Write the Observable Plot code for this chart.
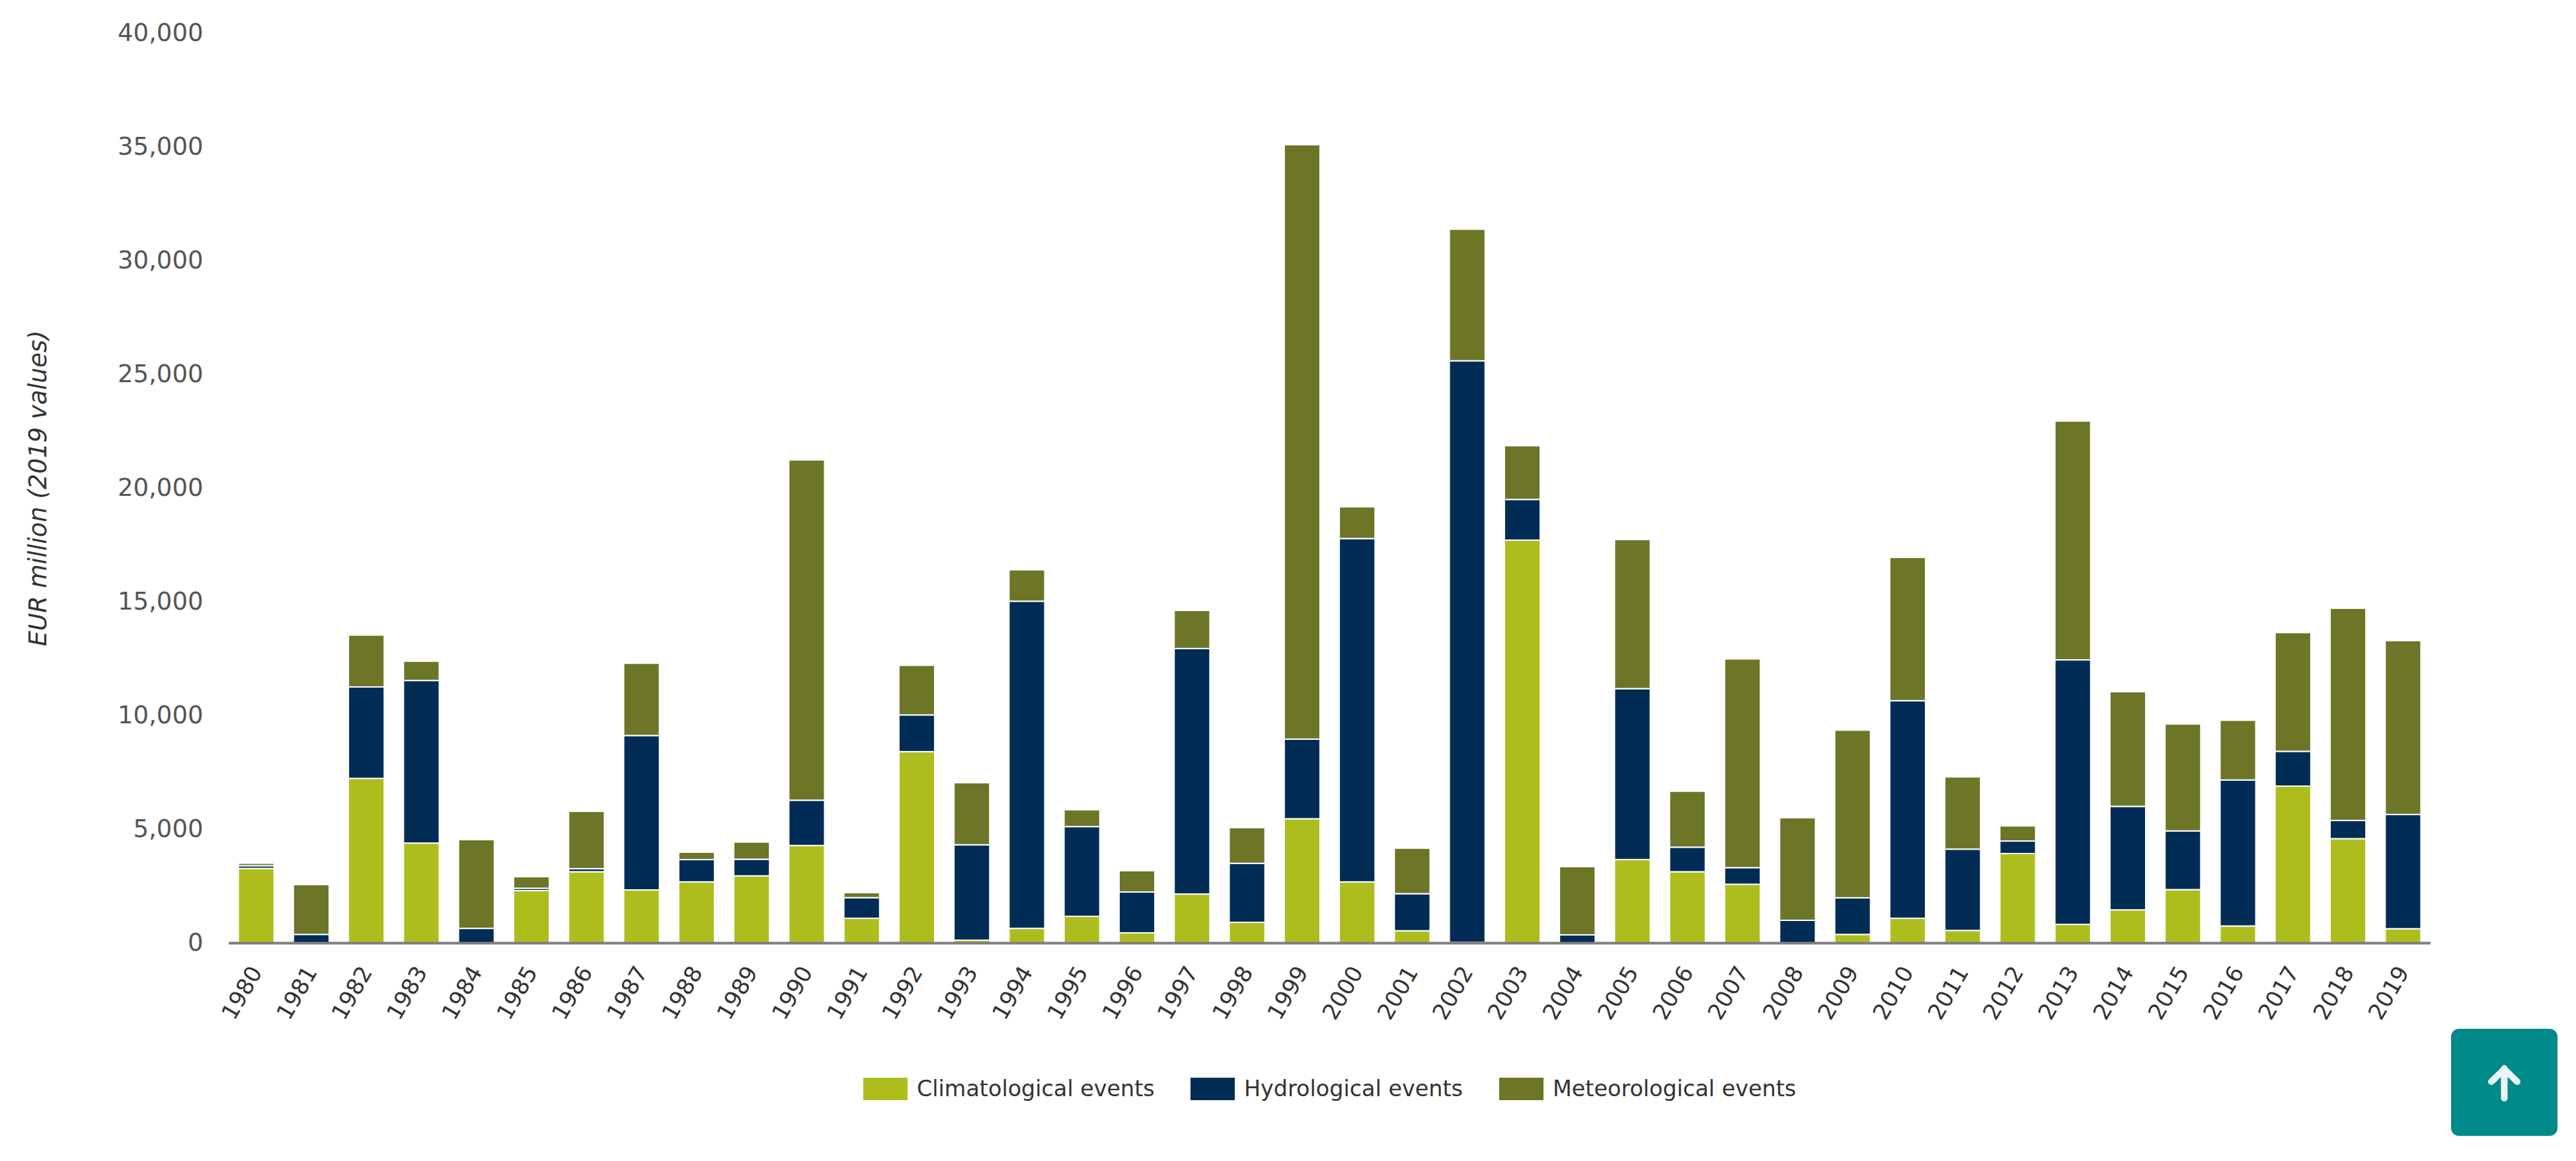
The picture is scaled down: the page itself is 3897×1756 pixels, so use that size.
<!DOCTYPE html>
<html>
<head>
<meta charset="utf-8">
<script src="https://cdn.jsdelivr.net/npm/d3@7"></script>
<script src="https://cdn.jsdelivr.net/npm/@observablehq/plot@0.6"></script>
<style>
html,body{margin:0;padding:0;background:#fff;font-family:"DejaVu Sans",sans-serif;}
#wrap{position:relative;width:3897px;height:1756px;overflow:hidden;}
#legend{position:absolute;left:1306px;top:1627px;height:34px;display:flex;align-items:center;font-size:33.4px;color:#333;white-space:nowrap;}
#legend .sw{width:67px;height:34px;margin-right:14px;flex:none;}
#legend .it{display:flex;align-items:center;position:absolute;top:0;}
#top{position:absolute;left:3708px;top:1556px;width:161px;height:162px;background:#008a8a;border-radius:12px;}
#top svg{position:absolute;left:0;top:0;}
</style>
</head>
<body>
<div id="wrap">
<div id="chart"></div>
<div id="legend"></div>
<div id="top"><svg width="161" height="162" viewBox="0 0 161 162"><path d="M80.5 60V105M61 80L80.5 61L100 80" fill="none" stroke="#eaf5f5" stroke-width="10" stroke-linecap="round" stroke-linejoin="round"/></svg></div>
</div>
<script>
const years = d3.range(1980, 2020).map(String);
const seriesNames = ["Climatological events", "Hydrological events", "Meteorological events"];
const seriesColors = ["#aebd1e", "#012c56", "#6d7527"];
const climatological = [3270,0,7230,4385,0,2295,3125,2325,2680,2945,4280,1080,8405,115,635,1165,440,2145,900,5455,2680,530,20,17705,0,3660,3125,2575,0,370,1080,545,3925,810,1450,2340,740,6890,4580,620];
const hydrological = [120,370,4020,7150,635,105,135,6790,980,730,1990,905,1615,4195,14385,3945,1795,10795,2595,3500,15095,1630,25570,1790,350,7515,1080,730,990,1610,9565,3575,550,11630,4550,2580,6420,1530,800,5025];
const meteorological = [110,2190,2280,845,3900,505,2520,3175,325,755,14960,220,2180,2730,1380,740,935,1675,1570,26135,1395,2000,5785,2360,3000,6555,2460,9175,4510,7370,6300,3175,665,10500,5040,4700,2625,5220,9330,7640];
const yTicks = [0,5000,10000,15000,20000,25000,30000,35000,40000];
const yLabel = "EUR million (2019 values)";

const rows = [climatological, hydrological, meteorological].flatMap((vals, s) =>
  vals.map((v, i) => ({year: years[i], value: v, series: seriesNames[s]})));

const chart = Plot.plot({
  width: 3897,
  height: 1570,
  marginLeft: 346,
  marginRight: 220,
  marginTop: 50,
  marginBottom: 144,
  style: {fontFamily: '"DejaVu Sans",sans-serif', background: "#fff"},
  x: {type: "band", domain: years, paddingInner: 0.35, paddingOuter: 0.175, align: 0.5, round: false},
  y: {domain: [0, 40000]},
  color: {domain: seriesNames, range: seriesColors},
  marks: [
    Plot.barY(rows, {x: "year", y: "value", fill: "series", stroke: "#fff", strokeWidth: 2, order: seriesNames}),
    Plot.ruleY([0], {stroke: "#7f7f7f", strokeWidth: 4}),
    Plot.axisY({ticks: yTicks, tickSize: 0, tickPadding: 39, tickFormat: d3.format(","), fontSize: 37, color: "#555", label: null}),
    Plot.axisX({tickSize: 0, tickRotate: -60, tickPadding: 38, fontSize: 34, color: "#333", label: null}),
    Plot.text([yLabel], {frameAnchor: "left", textAnchor: "middle", dx: -288, dy: 0, rotate: -90, fontSize: 37, fontStyle: "italic", fill: "#333", lineWidth: 100})
  ]
});
document.getElementById("chart").appendChild(chart);

const legend = document.getElementById("legend");
const lefts = [0, 495, 962];
seriesNames.forEach((name, i) => {
  const it = document.createElement("div");
  it.className = "it";
  it.style.left = lefts[i] + "px";
  it.innerHTML = `<span class="sw" style="background:${seriesColors[i]}"></span><span>${name}</span>`;
  legend.appendChild(it);
});
</script>
</body>
</html>
